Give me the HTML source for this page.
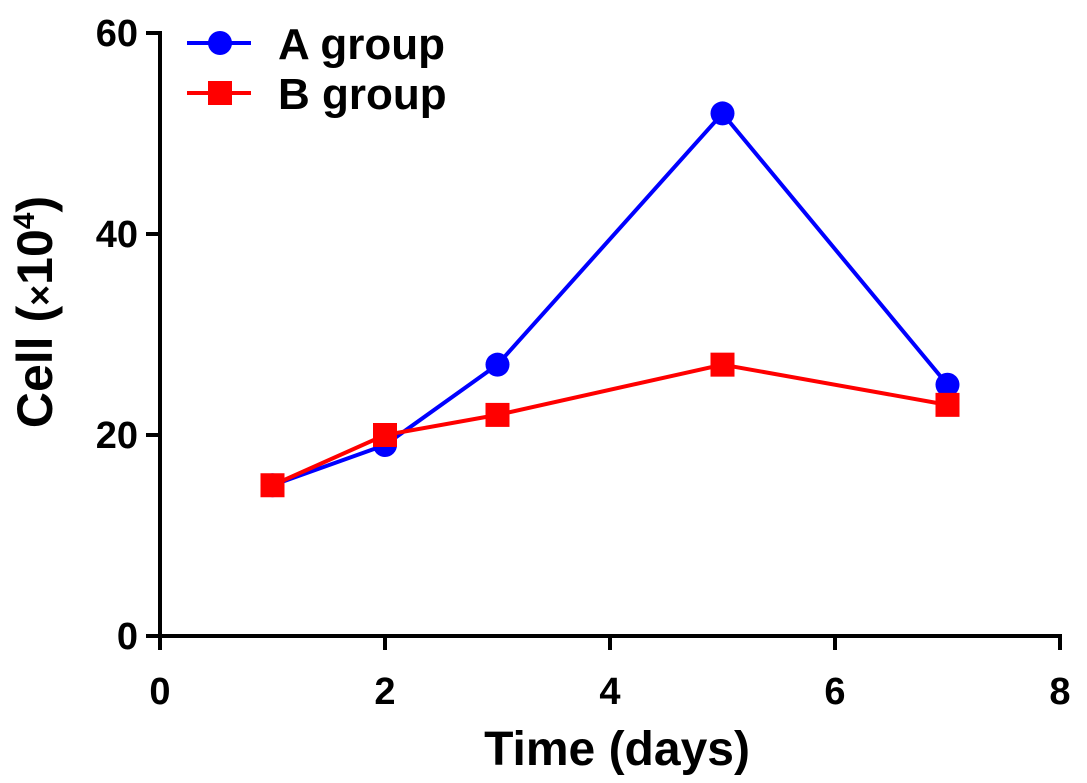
<!DOCTYPE html>
<html><head><meta charset="utf-8"><style>
body{margin:0;background:#fff;}
svg{display:block;font-family:"Liberation Sans",Arial,sans-serif;}
</style></head><body>
<svg id="chart" width="1087" height="783" viewBox="0 0 1087 783"></svg>
<script>
const days = [1, 2, 3, 5, 7];
const groupA = [15, 19, 27, 52, 25];
const groupB = [15, 20, 22, 27, 23];
const xTicks = [0, 2, 4, 6, 8];
const yTicks = [0, 20, 40, 60];
const seriesNames = ["A group", "B group"];

const NS = "http://www.w3.org/2000/svg";
const svg = document.getElementById("chart");
const x0 = 160, x1 = 1060, y0 = 636, y1 = 33;
const xs = v => x0 + (v - 0) / 8 * (x1 - x0);
const ys = v => y0 - (v - 0) / 60 * (y0 - y1);
function mk(tag, attrs, parent) {
  const e = document.createElementNS(NS, tag);
  for (const k in attrs) e.setAttribute(k, attrs[k]);
  (parent || svg).appendChild(e);
  return e;
}
const yAxis = mk("line", {x1: x0, y1: y1 - 2, x2: x0, y2: y0 + 2, stroke: "#000", "stroke-width": 4});


const xAxis = mk("line", {x1: x0 - 2, y1: y0, x2: x1 + 2, y2: y0, stroke: "#000", "stroke-width": 4});


yTicks.forEach(t => {
  const l = mk("line", {x1: x0 - 14, y1: ys(t), x2: x0, y2: ys(t), stroke: "#000", "stroke-width": 4});
  
  
  const tx = mk("text", {x: x0 - 22, y: ys(t) + 13, "text-anchor": "end", "font-size": 38, "font-weight": "bold"});
  tx.textContent = t;
  
  
});
xTicks.forEach(t => {
  const l = mk("line", {x1: xs(t), y1: y0, x2: xs(t), y2: y0 + 14, stroke: "#000", "stroke-width": 4});
  
  
  const tx = mk("text", {x: xs(t), y: y0 + 68, "text-anchor": "middle", "font-size": 38, "font-weight": "bold"});
  tx.textContent = t;
  
  
});
const xt = mk("text", {x: 617, y: 765, "text-anchor": "middle", "font-size": 48, "font-weight": "bold"});
xt.textContent = "Time (days)";


const yt = mk("text", {x: 0, y: 0, "text-anchor": "middle", "font-size": 50, "font-weight": "bold", transform: "translate(52,312) rotate(-90)"});
yt.innerHTML = 'Cell (<tspan font-size="36">×</tspan>10<tspan dy="-18" font-size="30">4</tspan><tspan dy="18">)</tspan>';



function drawSeries(vals, color, shape, name) {
  const g = mk("g", {});
  
  
  const pts = days.map((d, i) => xs(d) + "," + ys(vals[i])).join(" ");
  mk("polyline", {points: pts, fill: "none", stroke: color, "stroke-width": 4}, g);
  days.forEach((d, i) => {
    let m;
    if (shape === "circle") m = mk("circle", {cx: xs(d), cy: ys(vals[i]), r: 12, fill: color}, g);
    else m = mk("rect", {x: xs(d) - 12, y: ys(vals[i]) - 12, width: 24, height: 24, fill: color}, g);
    
    
  });
}
drawSeries(groupA, "#0000ff", "circle", "series-a-group");
drawSeries(groupB, "#ff0000", "square", "series-b-group");

[["#0000ff", "circle", 43], ["#ff0000", "square", 93]].forEach((c, i) => {
  const g = mk("g", {});
  
  
  mk("line", {x1: 187, y1: c[2], x2: 251, y2: c[2], stroke: c[0], "stroke-width": 4}, g);
  if (c[1] === "circle") mk("circle", {cx: 220, cy: c[2], r: 12, fill: c[0]}, g);
  else mk("rect", {x: 208, y: c[2] - 12, width: 24, height: 24, fill: c[0]}, g);
  const t = mk("text", {x: 278, y: c[2] + 16, "font-size": 44, "font-weight": "bold"}, g);
  t.textContent = seriesNames[i];
});
</script>
</body></html>
